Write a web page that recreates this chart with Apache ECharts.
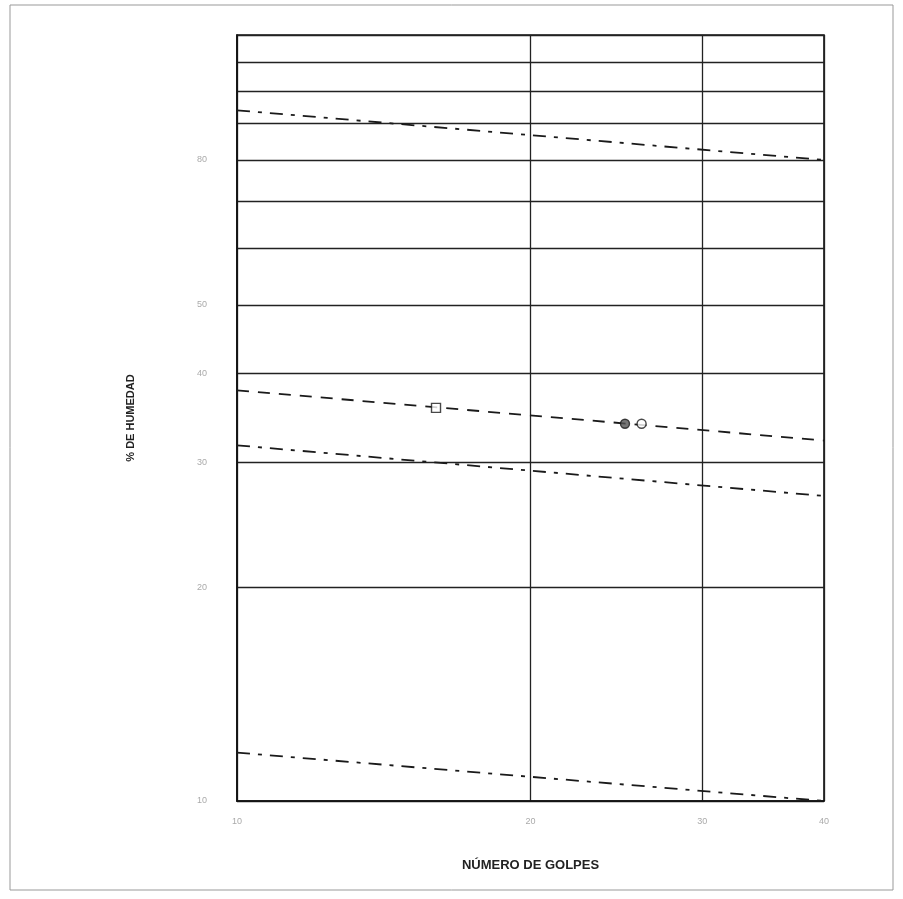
<!DOCTYPE html>
<html>
<head>
  <meta charset="utf-8">
</head>
<body style="margin: 0; width: 903px; height: 899px; background: #fff;">
  <div id="container" style="width: 903px; height: 899px;"></div>
  <script src="https://cdn.jsdelivr.net/npm/echarts@6/dist/echarts.min.js"></script>
  <script>
    // ejes (escala logaritmica en ambos)
    var xTicks = [10, 20, 30, 40];
    var yGrid = [10, 20, 30, 40, 50, 60, 70, 80, 90, 100, 110, 120];
    var yLabels = [10, 20, 30, 40, 50, 80];

    // puntos de ensayo (golpes, % humedad)
    var ensayoA = [[16, 35.8]];
    var ensayoLL = [[25, 34.0]];
    var ensayoB = [[26, 34.0]];

    // rectas
    var curvaFluidez = [[10, 37.9], [40, 32.2]];
    var rectaSup = [[10, 94.0], [40, 80.0]];
    var rectaMed = [[10, 31.7], [40, 26.9]];
    var rectaInf = [[10, 11.7], [40, 10.0]];

    var chart = echarts.init(document.getElementById('container'), null, { renderer: 'canvas' });

    var dashDot = [13, 8, 4, 8];

    function recta(data, type) {
      return {
        type: 'line',
        data: data,
        symbol: 'none',
        silent: true,
        lineStyle: { color: '#1a1a1a', width: 1.8, type: type },
        z: 3
      };
    }

    function punto(data, symbol, fill) {
      return {
        type: 'scatter',
        data: data,
        symbol: symbol,
        symbolSize: 9,
        itemStyle: { color: fill, borderColor: '#1a1a1a', borderWidth: 1.4 },
        z: 5
      };
    }

    var option = {
      backgroundColor: '#fff',
      animation: false,
      grid: {
        left: 237, right: 79, top: 35, bottom: 98,
        show: true, borderColor: '#111', borderWidth: 1.6
      },
      xAxis: {
        type: 'log', logBase: 10, min: 10, max: 40,
        name: 'NÚMERO DE GOLPES', nameLocation: 'middle', nameGap: 58,
        nameTextStyle: { fontFamily: 'Liberation Sans', fontWeight: 'bold', fontSize: 13, color: '#222' },
        axisLine: { show: true, lineStyle: { color: '#111', width: 1.6 } },
        axisTick: { show: false, customValues: xTicks },
        axisLabel: { customValues: xTicks, color: '#aaa', fontSize: 9, margin: 16 },
        splitLine: { show: true, lineStyle: { color: '#222', width: 1.3 } }
      },
      yAxis: {
        type: 'log', logBase: 10, min: 10, max: 120,
        name: '% DE HUMEDAD', nameLocation: 'middle', nameGap: 101, nameRotate: 90,
        nameTextStyle: { fontFamily: 'Liberation Sans', fontWeight: 'bold', fontSize: 11, color: '#222' },
        axisLine: { show: true, lineStyle: { color: '#111', width: 1.6 } },
        axisTick: { show: false, customValues: yGrid },
        axisLabel: { customValues: yLabels, color: '#aaa', fontSize: 9, margin: 30 },
        splitLine: { show: true, lineStyle: { color: '#222', width: 1.3 } }
      },
      graphic: [{
        type: 'rect',
        shape: { x: 10, y: 5, width: 883, height: 885 },
        style: { fill: 'none', stroke: '#999', lineWidth: 1 }
      }],
      series: [
        recta(rectaSup, dashDot),
        recta(curvaFluidez, [12, 9]),
        recta(rectaMed, dashDot),
        recta(rectaInf, dashDot),
        punto(ensayoA, 'rect', '#fff'),
        punto(ensayoLL, 'circle', '#555'),
        punto(ensayoB, 'circle', '#fff')
      ]
    };

    chart.setOption(option);
  </script>
</body>
</html>
